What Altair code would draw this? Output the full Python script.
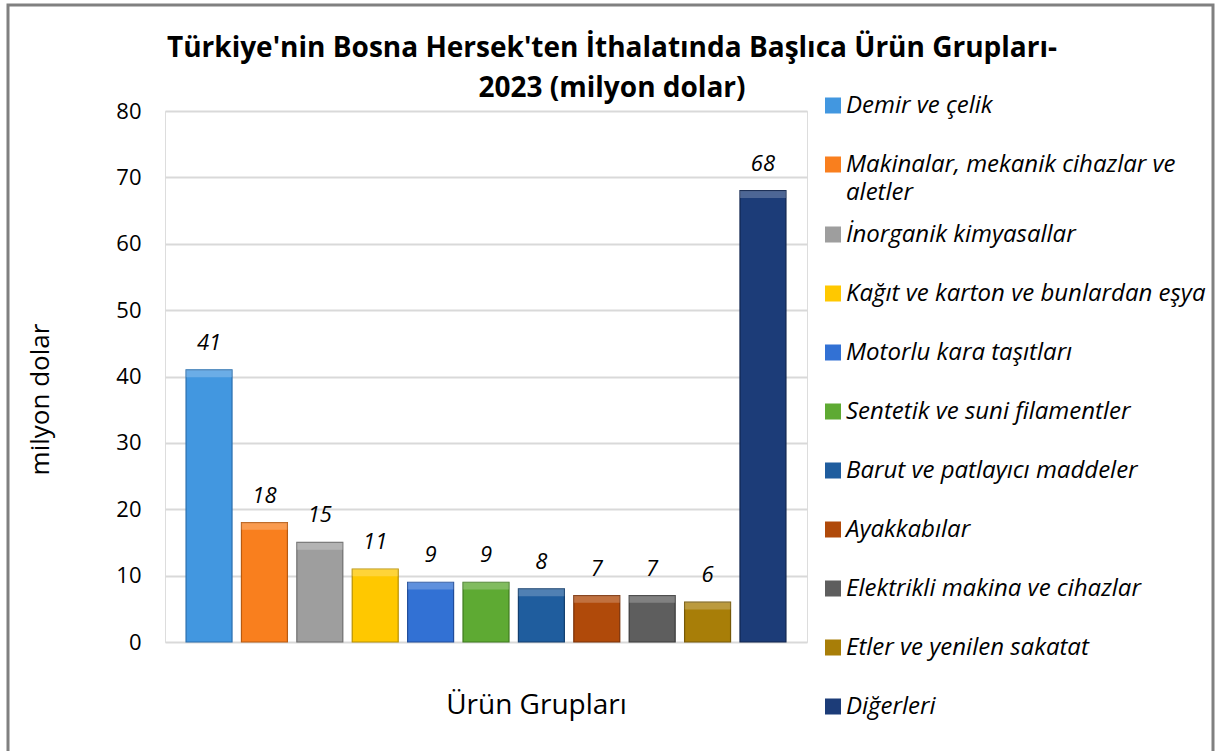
import altair as alt
import pandas as pd

categories = [
    "Demir ve çelik",
    "Makinalar, mekanik cihazlar ve aletler",
    "İnorganik kimyasallar",
    "Kağıt ve karton ve bunlardan eşya",
    "Motorlu kara taşıtları",
    "Sentetik ve suni filamentler",
    "Barut ve patlayıcı maddeler",
    "Ayakkabılar",
    "Elektrikli makina ve cihazlar",
    "Etler ve yenilen sakatat",
    "Diğerleri",
]
values = [41, 18, 15, 11, 9, 9, 8, 7, 7, 6, 68]
colors = ["#4297E0", "#F97F1E", "#9E9E9E", "#FFC800", "#3271D4", "#5EAA33",
          "#1F5D9E", "#B04A0A", "#5E5E5E", "#A87E08", "#1C3C78"]
edge_colors = ["#2A6FAE", "#B85A10", "#6E6E6E", "#B89000", "#204C9A", "#3E7A1E",
               "#123E6E", "#7A3006", "#3A3A3A", "#765806", "#10254E"]
y_ticks = [0, 10, 20, 30, 40, 50, 60, 70, 80]

df = pd.DataFrame({"Ürün": categories, "Değer": values})

x_enc = alt.X("Ürün:N", sort=categories,
              scale=alt.Scale(paddingInner=0.17, paddingOuter=0.38),
              axis=alt.Axis(labels=False, ticks=False, domain=False, grid=False,
                            title="Ürün Grupları", titleFont="Open Sans",
                            titleFontSize=28, titleFontWeight="normal",
                            titleColor="#000000", titleX=371, titleY=63,
                            titleAlign="center", titleBaseline="middle"))
y_enc = alt.Y("Değer:Q", scale=alt.Scale(domain=[0, 80], nice=False),
              axis=alt.Axis(values=y_ticks, title="milyon dolar", domain=False,
                            ticks=False, labelPadding=24, labelFont="Open Sans",
                            labelFontSize=22, labelColor="#000000",
                            gridColor="#D9D9D9", gridWidth=2,
                            titleFont="Open Sans", titleFontSize=26,
                            titleFontWeight="normal", titleColor="#000000",
                            titleX=-125, titleY=288, titleAngle=-90,
                            titleAlign="center", titleBaseline="middle"))

label_expr = ("datum.label == 'Makinalar, mekanik cihazlar ve aletler' ? "
              "['Makinalar, mekanik cihazlar ve', 'aletler'] : datum.label")

bars = alt.Chart(df).mark_bar(strokeWidth=1.2).encode(
    x=x_enc,
    y=y_enc,
    color=alt.Color("Ürün:N", sort=categories,
                    scale=alt.Scale(domain=categories, range=colors),
                    legend=alt.Legend(title=None, orient="none", legendX=656,
                                      legendY=-35, symbolType="square",
                                      symbolSize=256, symbolStrokeWidth=0,
                                      labelFont="Open Sans", labelFontStyle="italic",
                                      labelFontSize=24, labelColor="#000000",
                                      labelLimit=420, labelOffset=1,
                                      clipHeight=59.0, rowPadding=0,
                                      labelExpr=label_expr)),
    stroke=alt.Stroke("Ürün:N", sort=categories,
                      scale=alt.Scale(domain=categories, range=edge_colors),
                      legend=None),
)

highlight = alt.Chart(df).transform_calculate(
    top_lo="datum['Değer'] - 1.1"
).mark_bar(color="#FFFFFF", opacity=0.22).encode(
    x=alt.X("Ürün:N", sort=categories),
    y=alt.Y("Değer:Q"),
    y2=alt.Y2("top_lo:Q"),
)

labels = alt.Chart(df).mark_text(font="Open Sans", fontStyle="italic", fontSize=22,
                                 color="#000000", baseline="middle", dy=-27).encode(
    x=alt.X("Ürün:N", sort=categories),
    y=alt.Y("Değer:Q"),
    text=alt.Text("Değer:Q"),
)

border_df = pd.DataFrame({"k": [0]})
border = alt.Chart(border_df).mark_rect(fill=None, stroke="#808080", strokeWidth=3).encode(
    x=alt.value(-157), x2=alt.value(1048), y=alt.value(-106), y2=alt.value(660)
)

chart = alt.layer(border, bars, highlight, labels).properties(
    width=642, height=531,
    title=alt.Title(["Türkiye'nin Bosna Hersek'ten İthalatında Başlıca Ürün Grupları-",
                     "2023 (milyon dolar)"],
                    font="Open Sans", fontSize=28, fontWeight="bold",
                    color="#000000", anchor="middle", frame="group", dx=126,
                    dy=103, lineHeight=40),
    padding={"left": 165, "top": 111, "right": 412, "bottom": 109},
    autosize=alt.AutoSizeParams(type="none"),
).configure_view(stroke=None).configure(style={"guide-label": {"lineHeight": 28}})

chart.save("out.html", embed_options={"renderer": "svg", "actions": False})
